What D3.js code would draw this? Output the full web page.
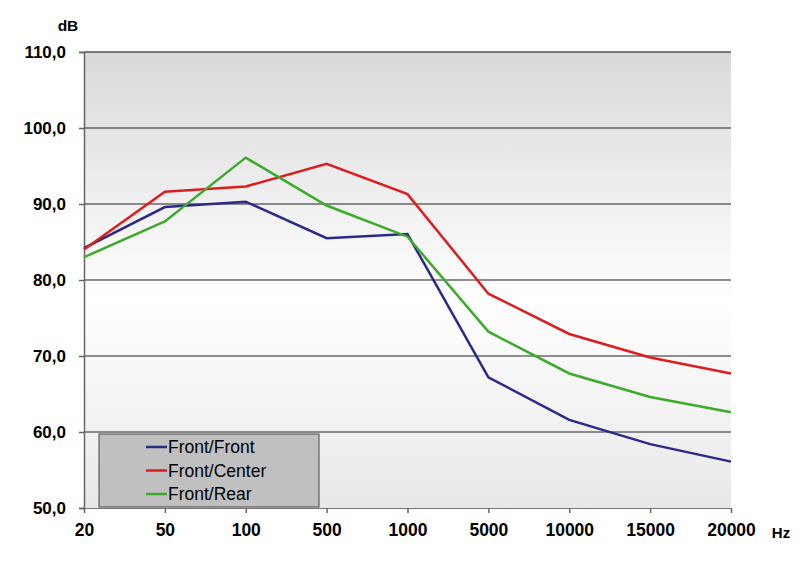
<!DOCTYPE html>
<html><head><meta charset="utf-8">
<script src="https://cdn.jsdelivr.net/npm/d3@7"></script>
<style>body{margin:0;background:#fff}svg{display:block}</style>
</head><body>
<svg id="c" width="800" height="569"></svg>
<script>
const categories = ["20","50","100","500","1000","5000","10000","15000","20000"];
const frontFront  = [84.2, 89.6, 90.3, 85.5, 86.05, 67.2, 61.6, 58.4, 56.1];
const frontCenter = [84.0, 91.6, 92.3, 95.3, 91.3, 78.2, 72.9, 69.8, 67.7];
const frontRear   = [83.0, 87.7, 96.1, 89.8, 85.7, 73.2, 67.7, 64.6, 62.6];
const seriesNames = ["Front/Front","Front/Center","Front/Rear"];
const seriesColors = ["#2b2a8a","#dd1e1e","#3daa2c"];
const yTicks = [50,60,70,80,90,100,110];

const svg = d3.select("#c");
const m = {l:84, r:731, t:52, b:508};
const x = d3.scalePoint().domain(categories).range([m.l, m.r]).padding(0);
const y = d3.scaleLinear().domain([50,110]).range([m.b, m.t]);
const font = "'Liberation Sans', Arial, sans-serif";

const defs = svg.append("defs");
const g = defs.append("linearGradient").attr("id","bg").attr("x1",0).attr("y1",0).attr("x2",0).attr("y2",1);
g.append("stop").attr("offset","0%").attr("stop-color","#d9d9d9");
g.append("stop").attr("offset","55%").attr("stop-color","#ffffff");
g.append("stop").attr("offset","100%").attr("stop-color","#e8e8e8");

svg.append("rect").attr("x",m.l).attr("y",m.t).attr("width",m.r-m.l).attr("height",m.b-m.t).attr("fill","url(#bg)");

// gridlines
svg.append("g").selectAll("line").data(yTicks.filter(d=>d>50)).join("line")
  .attr("x1",m.l).attr("x2",m.r).attr("y1",d=>y(d)).attr("y2",d=>y(d))
  .attr("stroke",d=>d===110?"#555":"#222").attr("stroke-width",d=>d===110?1.5:1);

// y axis
const yAxis = d3.axisLeft(y).tickValues(yTicks).tickSize(5).tickFormat(d=>d3.format(".1f")(d).replace(".",","));
const ya = svg.append("g").attr("transform",`translate(${m.l},0)`).call(yAxis);
ya.select(".domain").attr("stroke","#666").attr("stroke-width",1.5);
ya.selectAll(".tick line").attr("stroke","#666").attr("stroke-width",1.5);
ya.selectAll("text").attr("x",-18).attr("font-family",font).attr("font-size",17).attr("font-weight","bold").attr("fill","#000");

// x axis
const xAxis = d3.axisBottom(x).tickSize(5);
const xa = svg.append("g").attr("transform",`translate(0,${m.b})`).call(xAxis);
xa.select(".domain").attr("stroke","#777").attr("stroke-width",1);
xa.selectAll(".tick line").attr("stroke","#666").attr("stroke-width",1.5);
xa.selectAll("text").attr("y",28).attr("dy",0).attr("font-family",font).attr("font-size",17.5).attr("font-weight","bold").attr("fill","#000");

svg.append("text").attr("x",68).attr("y",31).attr("text-anchor","middle").attr("font-family",font).attr("font-size",15.5).attr("font-weight","bold").text("dB");
svg.append("text").attr("x",781).attr("y",538).attr("text-anchor","middle").attr("font-family",font).attr("font-size",15).attr("font-weight","bold").text("Hz");

// lines
const seriesData = [frontFront, frontCenter, frontRear];
const line = d3.line().x((d,i)=>x(categories[i])).y(d=>y(d));
svg.append("g").selectAll("path").data(seriesData).join("path")
  .attr("d",line).attr("fill","none").attr("stroke",(d,i)=>seriesColors[i]).attr("stroke-width",2.5).attr("stroke-linejoin","miter");

// legend
const lg = svg.append("g");
lg.append("rect").attr("x",99).attr("y",434).attr("width",220).attr("height",73).attr("fill","#c0c0c0").attr("stroke","#444").attr("stroke-width",1);
seriesNames.forEach((n,i)=>{
  const yy = 447 + i*23.5;
  lg.append("line").attr("x1",146).attr("x2",167).attr("y1",yy).attr("y2",yy).attr("stroke",seriesColors[i]).attr("stroke-width",2.5);
  lg.append("text").attr("x",168).attr("y",yy+6).attr("font-family",font).attr("font-size",17.5).attr("fill","#000").text(n);
});
</script>
</body></html>
